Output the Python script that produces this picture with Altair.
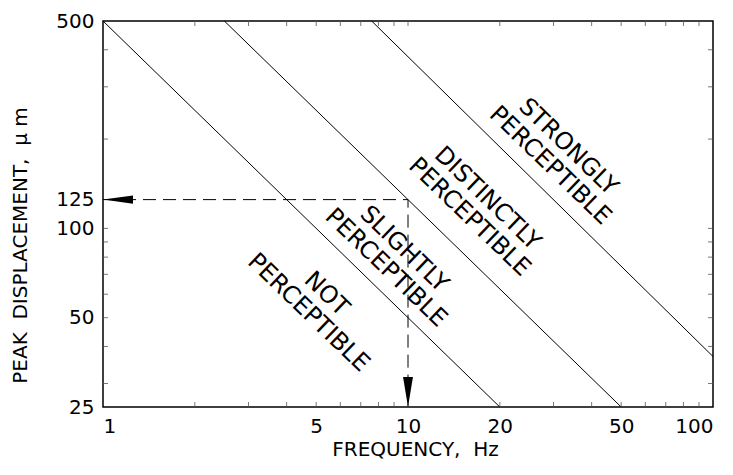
import altair as alt
import pandas as pd

# ---- data ----
line_f_start = [1.0, 2.5, 7.6]
line_d_start = [500, 500, 500]
line_f_end = [20, 50, 100]
line_d_end = [25, 25, 37]

dash_f = [1, 10, 10]
dash_d = [125, 125, 25]

label_text = ["NOT\nPERCEPTIBLE", "SLIGHTLY\nPERCEPTIBLE",
              "DISTINCTLY\nPERCEPTIBLE", "STRONGLY\nPERCEPTIBLE"]
label_f = [5.4, 9.7, 18.2, 33.5]
label_d = [60, 85, 126, 188]

x_tick_labels = [1, 5, 10, 20, 50, 100]
y_tick_labels = [25, 50, 100, 125, 500]
x_minor = [2, 3, 4, 5, 6, 7, 8, 9, 10, 20, 30, 40, 50, 60, 70, 80, 90]
y_minor = [30, 40, 50, 60, 70, 80, 90, 100, 200, 300, 400]

W, H = 610, 386

lines_df = pd.DataFrame({
    "f": line_f_start + line_f_end,
    "D": line_d_start + line_d_end,
    "id": [0, 1, 2, 0, 1, 2],
})
dash_df = pd.DataFrame({"f": dash_f, "D": dash_d, "o": [0, 1, 2]})
arrow_l = pd.DataFrame({"f": [dash_f[0]], "D": [dash_d[0]]})
arrow_d = pd.DataFrame({"f": [dash_f[2]], "D": [dash_d[2]]})
lab_df = pd.DataFrame({"f": label_f, "D": label_d, "t": label_text})
xt_df = pd.DataFrame({"f": x_minor})
yt_df = pd.DataFrame({"D": y_minor})

xscale = alt.Scale(type="log", domain=[1, 100], nice=False)
yscale = alt.Scale(type="log", domain=[25, 500], nice=False)

xaxis = alt.Axis(values=x_tick_labels, format="d", title="FREQUENCY,\u00a0\u00a0Hz",
                 ticks=False, domain=False, grid=False,
                 labelFont="DejaVu Sans", labelFontSize=20, labelColor="black",
                 labelPadding=9, labelFlush=True, labelOverlap=False,
                 titleFont="DejaVu Sans", titleFontSize=20, titleFontWeight="normal",
                 titleColor="black", titleX=312, titleY=42, titleBaseline="middle",
                 titleAlign="center")
yaxis = alt.Axis(values=y_tick_labels, format="d",
                 title="PEAK\u00a0\u00a0DISPLACEMENT,\u00a0\u00a0μ\u00a0m",
                 ticks=False, domain=False, grid=False,
                 labelFont="DejaVu Sans", labelFontSize=20, labelColor="black",
                 labelPadding=9, labelFlush=False, labelOverlap=False,
                 titleFont="DejaVu Sans", titleFontSize=20, titleFontWeight="normal",
                 titleColor="black", titleX=-83, titleY=224, titleAngle=-90,
                 titleBaseline="middle", titleAlign="center")

X = alt.X("f:Q", scale=xscale, axis=xaxis)
Y = alt.Y("D:Q", scale=yscale, axis=yaxis)

lines = alt.Chart(lines_df).mark_line(color="black", strokeWidth=1).encode(
    x=X, y=Y, detail="id:N")

dashes = alt.Chart(dash_df).mark_line(color="black", strokeWidth=1,
                                      strokeDash=[13, 7]).encode(
    x=X, y=Y, order="o:Q")

arrow1 = alt.Chart(arrow_l).mark_point(
    shape="M0,0L2,-0.27L2,0.27Z", size=900, filled=True, color="black",
    opacity=1, strokeWidth=0).encode(x=X, y=Y)
arrow2 = alt.Chart(arrow_d).mark_point(
    shape="M0,0L-0.33,-2L0.33,-2Z", size=900, filled=True, color="black",
    opacity=1, strokeWidth=0).encode(x=X, y=Y)

labels = alt.Chart(lab_df).mark_text(
    lineBreak="\n", angle=44, font="DejaVu Sans", fontSize=24, lineHeight=26,
    align="center", baseline="middle", color="black").encode(x=X, y=Y, text="t:N")

tick_style = dict(color="#555555", strokeWidth=0.8)
bt = alt.Chart(xt_df).mark_rule(**tick_style).encode(
    x=X, y=alt.value(H), y2=alt.value(H - 5))
tt = alt.Chart(xt_df).mark_rule(**tick_style).encode(
    x=X, y=alt.value(0), y2=alt.value(5))
lt = alt.Chart(yt_df).mark_rule(**tick_style).encode(
    y=Y, x=alt.value(0), x2=alt.value(5))
rt = alt.Chart(yt_df).mark_rule(**tick_style).encode(
    y=Y, x=alt.value(W), x2=alt.value(W - 5))

chart = alt.layer(lines, dashes, arrow1, arrow2, labels, bt, tt, lt, rt).properties(
    width=W, height=H,
    autosize=alt.AutoSizeParams(type="none"),
    padding={"left": 95, "top": 13, "right": 12, "bottom": 57},
    background="white",
).configure_view(stroke="black", strokeWidth=1.5)

chart.save("out.html", embed_options={"renderer": "svg", "actions": False})
